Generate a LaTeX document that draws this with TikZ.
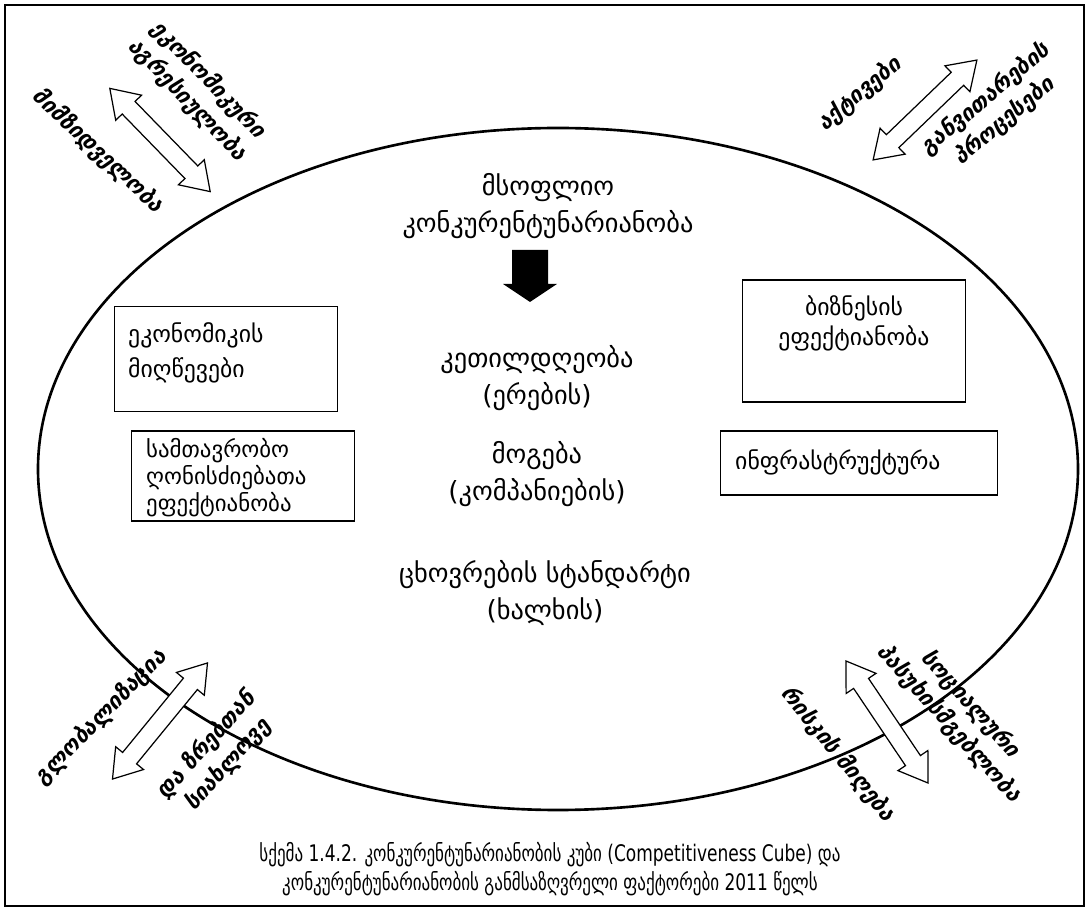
\documentclass[tikz,border=0pt]{standalone}
\usepackage{fontspec}
\setmainfont{DejaVu Sans}
\newfontfamily\capfont{DejaVu Sans}[FakeStretch=0.745]
\usetikzlibrary{positioning}

% double arrow: name, centre, angle, length
\newcommand{\dblarrow}[4]{%
\begin{scope}[shift={#2},rotate=#3]
\coordinate (#1) at (0,0);
\draw[arr] ({-#4/2},0) -- ({-#4/2+27},18) -- ({-#4/2+27},9) -- ({#4/2-27},9)
  -- ({#4/2-27},18) -- ({#4/2},0) -- ({#4/2-27},-18) -- ({#4/2-27},-9)
  -- ({-#4/2+27},-9) -- ({-#4/2+27},-18) -- cycle;
\end{scope}}

\begin{document}
\begin{tikzpicture}[x=0.02cm,y=-0.02cm]
\tikzstyle{box} = [draw=black,line width=0.8pt] %factor box
\tikzstyle{btxt} = [align=left,anchor=north west,font=\fontsize{13.5}{16.5}\selectfont] %box text
\tikzstyle{mid} = [align=center,font=\fontsize{15}{21.5}\selectfont] %centre text
\tikzstyle{side} = [align=center,font=\fontsize{12.5}{16.5}\selectfont\bfseries\itshape] %corner text
\tikzstyle{arr} = [draw=black,fill=white,line width=0.7pt] %double arrow
\useasboundingbox (0,0) rectangle (1089,911);
\draw[line width=0.8pt] (5,5) rectangle (1084,906);
\draw[line width=1.5pt] (558,469) ellipse (520 and 341);
% centre
\node[mid](world)at(548,206){მსოფლიო\\კონკურენტუნარიანობა};
\fill (512,250) -- (548,250) -- (548,284) -- (557,284) -- (530,302) -- (503,284) -- (512,284) -- cycle;
\node[mid](wealth)at(537,378){კეთილდღეობა\\(ერების)};
\node[mid](profit)at(537,474){მოგება\\(კომპანიების)};
\node[mid](living)at(545,593){ცხოვრების სტანდარტი\\(ხალხის)};
% boxes
\node[box,minimum width=4.46cm,minimum height=2.1cm](econ)at(226,359){};
\node[btxt,font=\fontsize{13.5}{20}\selectfont](econtxt)at(122,316){ეკონომიკის\\მიღწევები};
\node[box,minimum width=4.46cm,minimum height=1.8cm](gov)at(243,476){};
\node[btxt,font=\fontsize{13}{15.5}\selectfont](govtxt)at(140,432){სამთავრობო\\ღონისძიებათა\\ეფექტიანობა};
\node[box,minimum width=4.46cm,minimum height=2.44cm](biz)at(854,341){};
\node[mid,font=\fontsize{13.5}{17}\selectfont,below=6pt of biz.north](biztxt){ბიზნესის\\ეფექტიანობა};
\node[box,minimum width=5.54cm,minimum height=1.28cm](infra)at(859,463){};
\node[btxt,anchor=west](infratxt)at(729,462){ინფრასტრუქტურა};
% corners
\dblarrow{atl}{(160,140)}{-45.8}{144}
\dblarrow{atr}{(925,110)}{43.9}{144}
\dblarrow{abl}{(160,721)}{50.7}{150}
\dblarrow{abr}{(887,722)}{-56.1}{147}
\node[side,rotate=-43](attr)at(98,151){მიმზიდველობა};
\node[side,rotate=-46](aggr)at(198,90){ეკონომიკური\\აგრესიულობა};
\node[side,rotate=40](assets)at(860,94){აქტივები};
\node[side,rotate=40](procs)at(995,110){განვითარების\\პროცესები};
\node[side,rotate=46](glob)at(101,717){გლობალიზაცია};
\node[side,rotate=48](prox)at(217,755){და ზრებთან\\სიახლოვე};
\node[side,rotate=-51](risk)at(838,754){რისკის მიღება};
\node[side,rotate=-48](soc)at(960,714){სოციალური\\პასუხისმგებლობა};
% caption
\node[align=center,font=\capfont\fontsize{13}{16.5}\selectfont](cap)at(550,869){სქემა 1.4.2. კონკურენტუნარიანობის კუბი (Competitiveness Cube) და\\კონკურენტუნარიანობის განმსაზღვრელი ფაქტორები 2011 წელს};
\end{tikzpicture}
\end{document}
